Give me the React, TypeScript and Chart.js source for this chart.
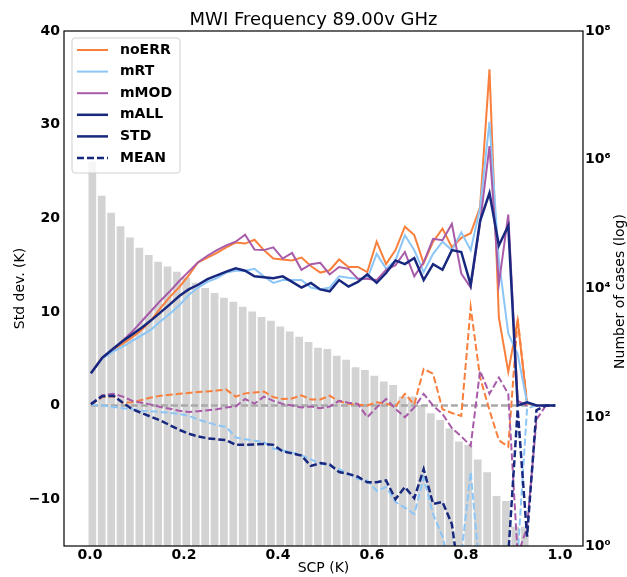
import React, { useEffect, useRef } from 'react';
import { Chart, registerables } from 'chart.js';

Chart.register(...registerables);

const TITLE = 'MWI Frequency 89.00v GHz';
const X_TITLE = 'SCP (K)';
const Y_TITLE = 'Std dev. (K)';
const Y2_TITLE = 'Number of cases (log)';

const X_TICKS = [0, 0.2, 0.4, 0.6, 0.8, 1.0];
const Y_TICKS = [-10, 0, 10, 20, 30, 40];
const Y2_TICKS = [1, 100, 1e4, 1e6, 1e8];

// histogram (number of cases per SCP bin)
const BAR_X = [0.005, 0.025, 0.045, 0.065, 0.085, 0.105, 0.125, 0.145, 0.165, 0.185, 0.205, 0.225, 0.245, 0.265, 0.285, 0.305, 0.325, 0.345, 0.365, 0.385, 0.405, 0.425, 0.445, 0.465, 0.485, 0.505, 0.525, 0.545, 0.565, 0.585, 0.605, 0.625, 0.645, 0.665, 0.685, 0.705, 0.725, 0.745, 0.765, 0.785, 0.805, 0.825, 0.845, 0.865, 0.885, 0.905, 0.925];
const BAR_COUNTS = [933000, 275000, 150000, 93000, 62000, 43000, 33000, 26000, 21900, 18200, 14800, 12300, 10200, 8500, 7200, 6200, 5200, 4400, 3600, 3160, 2570, 2140, 1780, 1480, 1200, 1150, 900, 780, 600, 540, 440, 360, 316, 210, 210, 155, 115, 91, 67, 42, 37, 22, 14, 6, 5, 2, 2];

// SCP positions of the curves
const LINE_X = [0.002, 0.026, 0.05, 0.07, 0.09, 0.11, 0.13, 0.15, 0.17, 0.19, 0.21, 0.23, 0.25, 0.27, 0.29, 0.31, 0.33, 0.35, 0.37, 0.39, 0.41, 0.43, 0.45, 0.47, 0.49, 0.51, 0.53, 0.55, 0.57, 0.59, 0.61, 0.63, 0.65, 0.67, 0.69, 0.71, 0.73, 0.75, 0.77, 0.79, 0.81, 0.83, 0.85, 0.87, 0.89, 0.91, 0.93, 0.95, 0.97, 0.99];

// standard deviations
const NOERR_STD = [3.45, 5.1, 6.0, 6.6, 7.3, 8.1, 9.1, 10.4, 11.6, 12.65, 13.9, 15.3, 15.8, 16.3, 16.9, 17.4, 17.3, 17.7, 16.6, 15.7, 15.6, 15.5, 15.8, 14.9, 14.2, 14.45, 15.6, 14.8, 14.8, 14.25, 17.5, 15.1, 16.6, 19.1, 18.2, 15.2, 17.5, 18.9, 16.9, 17.9, 18.4, 21.2, 35.9, 9.4, 3.6, 9.1, 0.2, 0.0];
const MRT_STD = [3.45, 5.0, 5.8, 6.3, 6.9, 7.5, 8.1, 9.0, 9.8, 10.7, 11.8, 12.6, 13.2, 13.6, 14.2, 14.4, 14.4, 14.6, 13.8, 13.1, 13.4, 13.4, 13.4, 12.6, 12.4, 12.6, 13.8, 13.65, 13.55, 13.55, 16.2, 14.6, 15.5, 18.2, 16.6, 14.25, 16.2, 17.5, 16.6, 18.5, 16.6, 21.1, 30.3, 15.5, 7.7, 5.5, 0.3, 0.0];
const MMOD_STD = [3.45, 5.1, 6.1, 6.95, 7.9, 9.0, 10.1, 11.2, 12.2, 13.3, 14.3, 15.3, 16.0, 16.6, 17.1, 17.5, 18.25, 16.65, 16.6, 16.9, 15.7, 16.3, 14.5, 15.1, 15.25, 14.0, 14.8, 14.6, 13.55, 13.55, 13.4, 14.5, 15.0, 16.4, 13.8, 15.3, 17.8, 17.65, 19.4, 14.1, 12.6, 19.5, 27.7, 13.0, 20.4, 0.5, 0.0];
const MALL_STD = [3.45, 5.1, 6.1, 6.9, 7.6, 8.3, 9.1, 9.95, 10.8, 11.7, 12.4, 12.9, 13.5, 13.9, 14.3, 14.65, 14.4, 13.8, 13.7, 13.6, 13.8, 13.2, 12.6, 13.1, 12.4, 12.2, 13.4, 12.7, 13.2, 14.0, 13.1, 14.15, 15.5, 15.1, 15.75, 13.4, 15.1, 14.5, 16.6, 16.4, 12.9, 19.7, 22.7, 17.1, 19.2, 0.0, 0.35, 0.0, 0.0, 0.0];

// means (dashed)
const NOERR_MEAN = [0.1, 0.9, 1.0, 0.3, 0.35, 0.6, 0.85, 1.05, 1.15, 1.25, 1.35, 1.45, 1.5, 1.6, 1.7, 0.95, 1.3, 1.4, 1.5, 0.9, 0.7, 0.75, 1.1, 0.65, 0.65, 1.05, 0.45, 0.2, 0.1, 0.0, 0.35, 0.2, -0.1, 1.25, 0.1, 3.9, 3.4, -0.4, -0.8, -1.1, 10.5, 3.0, -0.5, -3.7, -4.4, 9.3, 0.3, 0.0];
const MRT_MEAN = [0.1, 0.0, -0.15, -0.3, -0.4, -0.55, -0.6, -0.7, -0.8, -0.9, -1.1, -1.5, -1.8, -2.1, -2.3, -3.4, -3.6, -3.75, -3.9, -4.6, -4.8, -5.0, -5.3, -5.75, -6.2, -6.4, -6.8, -7.3, -7.85, -8.0, -9.1, -8.7, -10.3, -10.9, -11.6, -7.7, -11.6, -14.0, -18, -16, -7.1, -18, -20, -20, -20, -16, -0.3, 0.0];
const MMOD_MEAN = [0.15, 1.1, 1.25, 0.95, 0.5, 0.3, 0.1, -0.15, -0.35, -0.55, -0.7, -0.6, -0.5, -0.4, -0.2, -0.1, 0.7, 0.2, 0.95, 0.5, 0.18, 0.0, -0.2, -0.1, -0.3, -0.1, 0.5, 0.3, 0.18, -1.25, -0.2, 0.7, -0.35, -1.25, -0.2, 1.25, 0.0, -0.9, -2.4, -3.3, -4.3, 3.7, 1.25, 3.0, 1.25, -16, -13, -1.5, 0.0];
const MALL_MEAN = [0.15, 1.0, 1.05, 0.3, -0.4, -0.8, -1.2, -1.6, -2.1, -2.6, -3.0, -3.3, -3.5, -3.6, -3.7, -4.2, -4.2, -4.15, -4.1, -4.2, -4.9, -5.1, -5.35, -6.45, -6.15, -6.3, -7.1, -7.3, -7.6, -8.2, -8.2, -8.0, -10.0, -8.7, -9.9, -6.8, -10.5, -10.3, -12.65, -20, -22, -25, -22, -20, -16, -0.4, -14, -0.5, 0.0, 0.0];

const ZERO_LINE = [0, 0];

const C_NOERR = '#f97f3c';
const C_MRT = '#8cc6f7';
const C_MMOD = '#a85ba8';
const C_MALL = '#18287f';
const FONT = "'DejaVu Sans', sans-serif";
const DASH = [7, 3];

const pts = (ys: number[]) => ys.map((y, i) => ({ x: LINE_X[i], y }));

const framePlugin = {
  id: 'frame',
  afterDatasetsDraw(chart: any) {
    const { ctx, chartArea: a } = chart;
    ctx.save();
    ctx.strokeStyle = '#000';
    ctx.lineWidth = 1.2;
    ctx.strokeRect(a.left, a.top, a.right - a.left, a.bottom - a.top);
    ctx.restore();
  },
};

// right-axis title, reading bottom-to-top like the reference
const rightTitlePlugin = {
  id: 'rightTitle',
  afterDraw(chart: any) {
    const { ctx, chartArea: a } = chart;
    ctx.save();
    ctx.translate(chart.width - 7, (a.top + a.bottom) / 2 + 3);
    ctx.rotate(-Math.PI / 2);
    ctx.fillStyle = '#000';
    ctx.font = `14px ${FONT}`;
    ctx.textAlign = 'center';
    ctx.textBaseline = 'middle';
    ctx.fillText(Y2_TITLE, 0, 0);
    ctx.restore();
  },
};

const boxLegendPlugin = {
  id: 'boxLegend',
  afterDraw(chart: any) {
    const { ctx, chartArea: a } = chart;
    const items = chart.data.datasets
      .filter((d: any) => d.legendRank !== undefined)
      .sort((p: any, q: any) => p.legendRank - q.legendRank);
    const x0 = a.left + 8;
    const y0 = a.top + 7;
    const w = 108;
    const h = 135;
    const row = 21.6;
    ctx.save();
    ctx.beginPath();
    if (ctx.roundRect) ctx.roundRect(x0, y0, w, h, 3);
    else ctx.rect(x0, y0, w, h);
    ctx.fillStyle = 'rgba(255,255,255,0.8)';
    ctx.fill();
    ctx.strokeStyle = '#d0d0d0';
    ctx.lineWidth = 1;
    ctx.stroke();
    items.forEach((d: any, i: number) => {
      const cy = y0 + 12 + i * row;
      ctx.beginPath();
      ctx.setLineDash(d.borderDash || []);
      ctx.strokeStyle = d.borderColor;
      ctx.lineWidth = d.borderWidth;
      ctx.moveTo(x0 + 5, cy);
      ctx.lineTo(x0 + 36, cy);
      ctx.stroke();
      ctx.setLineDash([]);
      ctx.fillStyle = '#000';
      ctx.font = `bold 14px ${FONT}`;
      ctx.textBaseline = 'middle';
      ctx.textAlign = 'left';
      ctx.fillText(d.label, x0 + 48, cy);
    });
    ctx.restore();
  },
};

const SUP: Record<string, string> = { '0': '⁰', '1': '¹', '2': '²', '3': '³', '4': '⁴', '5': '⁵', '6': '⁶', '7': '⁷', '8': '⁸', '9': '⁹' };

export default function App() {
  const ref = useRef<HTMLCanvasElement | null>(null);

  useEffect(() => {
    if (!ref.current) return;
    const line = (label: string, data: number[], color: string, order: number, dashed: boolean, legendRank: number | undefined, width = 2) => ({
      type: 'line',
      label,
      data: pts(data),
      borderColor: color,
      backgroundColor: color,
      borderWidth: width,
      borderDash: dashed ? DASH : [],
      pointRadius: 0,
      tension: 0,
      fill: false,
      yAxisID: 'y',
      order,
      legendRank,
    });

    const chart = new Chart(ref.current, {
      type: 'line',
      data: {
        datasets: [
          line('mALL', MALL_STD, C_MALL, 1, false, 3, 2.5),
          line('_mALL_mean', MALL_MEAN, C_MALL, 1, true, undefined, 2.5),
          line('mMOD', MMOD_STD, C_MMOD, 2, false, 2),
          line('_mMOD_mean', MMOD_MEAN, C_MMOD, 2, true, undefined),
          line('mRT', MRT_STD, C_MRT, 3, false, 1),
          line('_mRT_mean', MRT_MEAN, C_MRT, 3, true, undefined),
          line('noERR', NOERR_STD, C_NOERR, 4, false, 0),
          line('_noERR_mean', NOERR_MEAN, C_NOERR, 4, true, undefined),
          {
            type: 'line',
            label: '_zero',
            data: [
              { x: LINE_X[0], y: ZERO_LINE[0] },
              { x: LINE_X[LINE_X.length - 1], y: ZERO_LINE[1] },
            ],
            borderColor: '#a9a9a9',
            borderWidth: 2.5,
            borderDash: DASH,
            pointRadius: 0,
            yAxisID: 'y',
            order: 5,
          },
          {
            type: 'line',
            label: 'STD',
            data: [],
            borderColor: C_MALL,
            borderWidth: 2.5,
            pointRadius: 0,
            yAxisID: 'y',
            legendRank: 4,
          },
          {
            type: 'line',
            label: 'MEAN',
            data: [],
            borderColor: C_MALL,
            borderWidth: 2.5,
            borderDash: DASH,
            pointRadius: 0,
            yAxisID: 'y',
            legendRank: 5,
          },
          {
            type: 'bar',
            label: '_cases',
            data: BAR_X.map((x, i) => ({ x, y: BAR_COUNTS[i] })),
            backgroundColor: '#d3d3d3',
            borderWidth: 0,
            barPercentage: 0.82,
            categoryPercentage: 1,
            yAxisID: 'y2',
            order: 10,
          },
        ] as any,
      },
      options: {
        responsive: false,
        animation: false,
        events: [],
        layout: { padding: 0 },
        plugins: {
          legend: { display: false },
          tooltip: { enabled: false },
          title: {
            display: true,
            text: TITLE,
            color: '#000',
            font: { family: FONT, size: 18, weight: 'normal', lineHeight: 1.2 },
            padding: { top: 9.4, bottom: 0 },
          },
        },
        scales: {
          x: {
            type: 'linear',
            min: -0.0553,
            max: 1.049,
            offset: false,
            afterBuildTicks: (s: any) => { s.ticks = X_TICKS.map((v) => ({ value: v })); },
            afterFit: (s: any) => { s.height = 31; },
            ticks: {
              color: '#000',
              font: { family: FONT, size: 14, weight: 'bold' },
              padding: 1,
              maxRotation: 0,
              autoSkip: false,
              callback: (v: any) => Number(v).toFixed(1),
            },
            grid: { display: false, drawTicks: false },
            border: { display: false },
            title: { display: true, text: X_TITLE, color: '#000', font: { family: FONT, size: 14 }, padding: 0 },
          },
          y: {
            type: 'linear',
            position: 'left',
            min: -15,
            max: 40,
            afterBuildTicks: (s: any) => { s.ticks = Y_TICKS.map((v) => ({ value: v })); },
            afterFit: (s: any) => { s.width = 64; },
            ticks: {
              color: '#000',
              font: { family: FONT, size: 14, weight: 'bold' },
              padding: 4,
              callback: (v: any) => (v < 0 ? '\u2212' + Math.abs(v) : String(v)),
            },
            grid: { display: false, drawTicks: false },
            border: { display: false },
            title: { display: true, text: Y_TITLE, color: '#000', font: { family: FONT, size: 14 }, padding: { top: 11.6, bottom: 0 } },
          },
          y2: {
            type: 'logarithmic',
            position: 'right',
            min: 1,
            max: 1e8,
            afterBuildTicks: (s: any) => { s.ticks = Y2_TICKS.map((v) => ({ value: v })); },
            afterFit: (s: any) => { s.width = 44; },
            ticks: {
              color: '#000',
              font: { family: FONT, size: 14, weight: 'bold' },
              padding: 2,
              callback: (v: any) => '10' + String(Math.round(Math.log10(v))).split('').map((c) => SUP[c]).join(''),
            },
            grid: { display: false, drawTicks: false },
            border: { display: false },
            title: { display: false },
          },
        },
      } as any,
      plugins: [framePlugin, boxLegendPlugin, rightTitlePlugin],
    });
    return () => chart.destroy();
  }, []);

  return (
    <div style={{ position: 'absolute', left: 0, top: 0, width: 627, height: 577, background: '#fff' }}>
      <canvas ref={ref} width={627} height={577} style={{ display: 'block' }} />
    </div>
  );
}
